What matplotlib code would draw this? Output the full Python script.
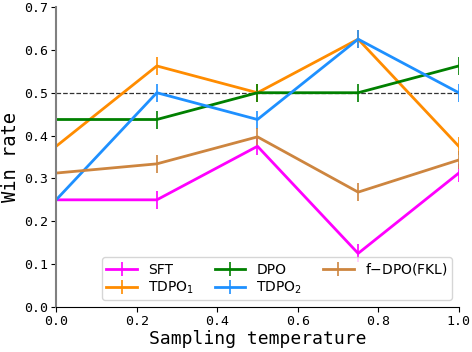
import numpy as np
import matplotlib.pyplot as plt

plt.rcParams['font.family'] = ['DejaVu Sans Mono']

#Data
temps = [0.0, 0.25, 0.5, 0.75, 1.0]
sft = [0.25, 0.25, 0.375, 0.125, 0.3125]
tdpo1 = [0.375, 0.5625, 0.5, 0.625, 0.375]
dpo = [0.4375, 0.4375, 0.5, 0.5, 0.5625]
tdpo2 = [0.25, 0.5, 0.4375, 0.625, 0.5]
fdpo = [0.3125, 0.334, 0.397, 0.268, 0.343]
err = 0.021

fig = plt.figure(figsize=(4.72, 3.52), dpi=100)
ax = fig.add_axes([0.119, 0.128, 0.853, 0.852])

ax.axhline(0.5, color='black', linestyle='--', linewidth=0.9, alpha=0.8)

series = [
    (sft, 'SFT', '#ff00ff'),
    (tdpo1, 'TDPO$_1$', '#ff8c00'),
    (dpo, 'DPO', '#008000'),
    (tdpo2, 'TDPO$_2$', '#1e90ff'),
    (fdpo, 'f$-$DPO(FKL)', '#cd853f'),
]
for vals, name, col in series:
    ax.errorbar(temps, vals, yerr=err, color=col, linewidth=2, elinewidth=1.2,
                label=name)

ax.set_xlim(0, 1.0)
ax.set_ylim(0, 0.7)
ax.set_xticks([0, 0.2, 0.4, 0.6, 0.8, 1.0])
ax.set_xticklabels(['0.0', '0.2', '0.4', '0.6', '0.8', '1.0'])
ax.set_yticks(np.arange(0, 0.71, 0.1))
ax.set_yticklabels(['0.0', '0.1', '0.2', '0.3', '0.4', '0.5', '0.6', '0.7'])
ax.tick_params(labelsize=9.5, pad=2)

ax.set_xlabel('Sampling temperature', fontsize=13, labelpad=2)
ax.set_ylabel('Win rate', fontsize=13.5, labelpad=3)

ax.spines['top'].set_visible(False)
ax.spines['right'].set_visible(False)
ax.spines['left'].set_color('gray')
ax.spines['left'].set_linewidth(1.5)

ax.legend(ncol=3, loc='lower right', prop={'family': 'DejaVu Sans', 'size': 10},
          handlelength=2.2, columnspacing=1.5, borderpad=0.3, labelspacing=0.2)

fig.savefig('out.png', dpi=100)
